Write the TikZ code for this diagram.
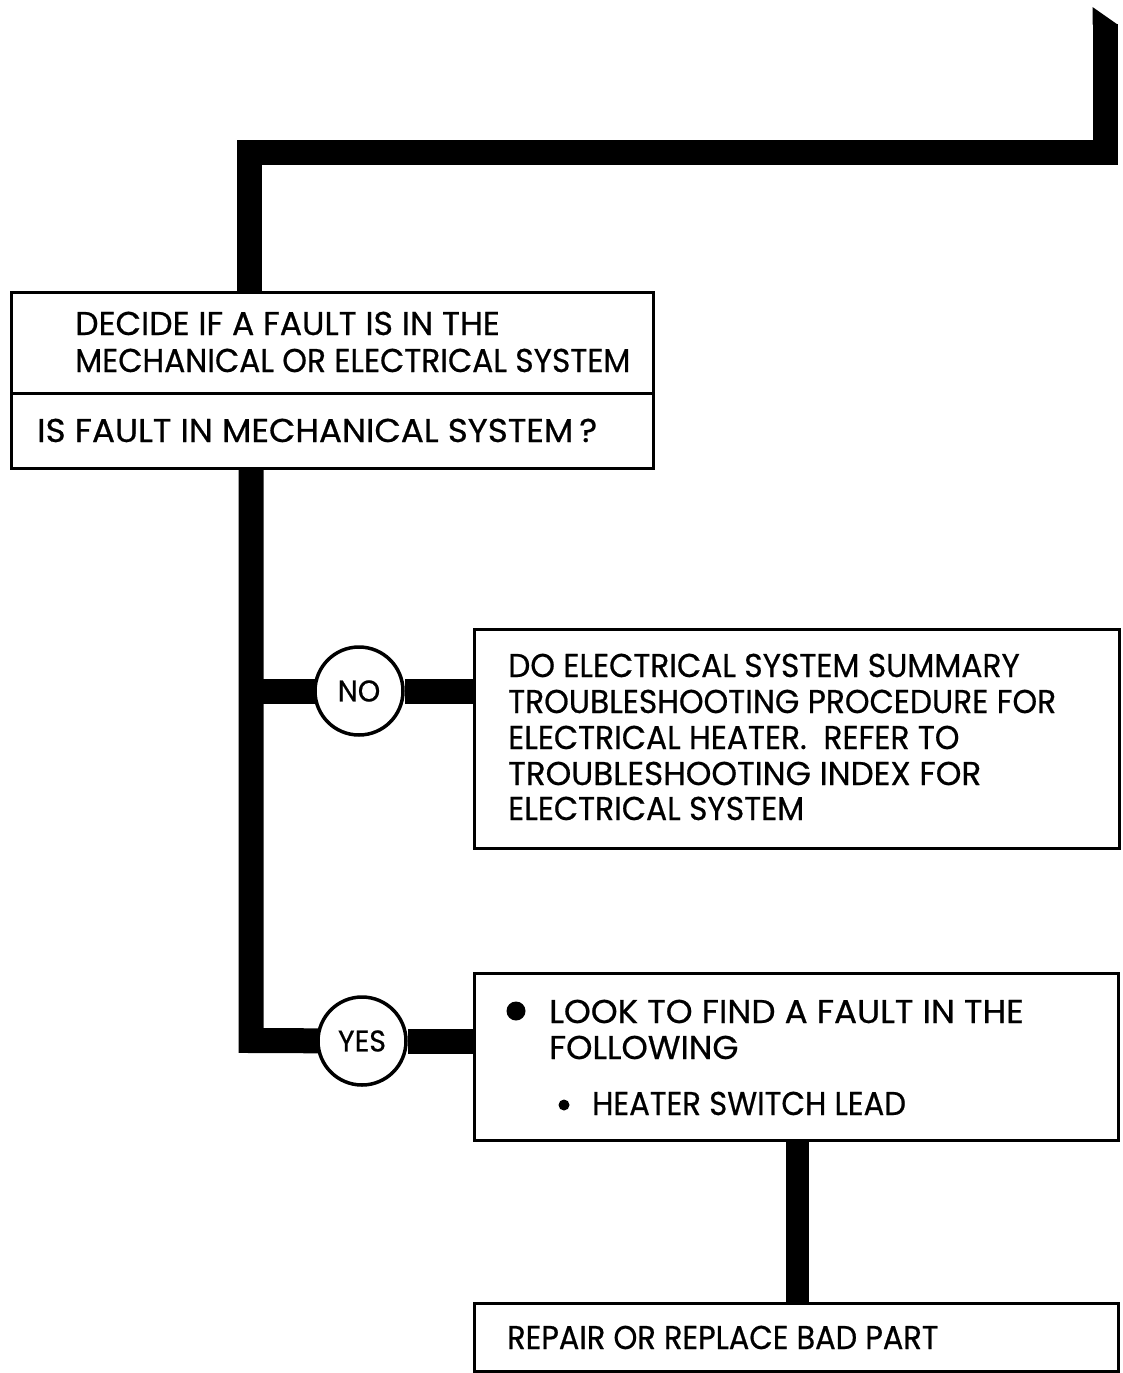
\documentclass[tikz,border=0pt]{standalone}
\usepackage{fontspec}
\usepackage{graphicx}
\setmainfont{Poppins}[FakeStretch=0.95,FakeBold=0.6]
\usetikzlibrary{backgrounds}
\newcommand\hsx[2]{\scalebox{#1}[1]{#2}}
\begin{document}
\begin{tikzpicture}[x=1pt,y=-1pt,
  bar/.style={line width=25pt,line join=miter},
  box/.style={draw,line width=2.8pt,rectangle,inner sep=0pt,anchor=north west},
  txt/.style={anchor=base west,inner sep=0pt,font=\fontsize{33}{36}\selectfont},
  yn/.style={circle,draw,line width=3.5pt,fill=white,minimum size=88pt,inner sep=0pt,font=\fontsize{30}{30}\selectfont}]
\useasboundingbox (0,0) rectangle (1122,1373);
% boxes
\node[box,minimum width=642pt,minimum height=101pt] (b1) at (10,291) {};
\node[box,minimum width=642pt,minimum height=75pt] (b2) at (10,392) {};
\node[box,minimum width=645pt,minimum height=219pt] (nobox) at (473,628) {};
\node[box,minimum width=644pt,minimum height=167pt] (yesbox) at (473,972) {};
\node[box,minimum width=644pt,minimum height=68pt] (repair) at (473,1302) {};
% circles
\node[yn] (no) at (359,691) {NO};
\node[yn] (yes) at (362,1041) {YES};
% texts
\node[txt] (t1) at (75,335) {\hsx{1.055}{DECIDE IF A FAULT IS IN THE}};
\node[txt] (t2) at (75,372) {MECHANICAL OR ELECTRICAL SYSTEM};
\node[txt] (t3) at (37,442) {\hsx{1.09}{IS FAULT IN MECHANICAL SYSTEM\,?}};
\node[txt] (n1) at (508,677) {DO ELECTRICAL SYSTEM SUMMARY};
\node[txt] (n2) at (508,713) {TROUBLESHOOTING PROCEDURE FOR};
\node[txt] (n3) at (508,749) {ELECTRICAL HEATER.\ \ REFER TO};
\node[txt] (n4) at (508,785) {\hsx{1.04}{TROUBLESHOOTING INDEX FOR}};
\node[txt] (n5) at (508,820) {ELECTRICAL SYSTEM};
\node[circle,fill,minimum size=19pt,inner sep=0pt] (bul1) at (516,1011) {};
\node[txt] (y1) at (549,1023) {\hsx{1.09}{LOOK TO FIND A FAULT IN THE}};
\node[txt] (y2) at (549,1059) {\hsx{1.07}{FOLLOWING}};
\node[circle,fill,minimum size=11pt,inner sep=0pt] (bul2) at (564,1105) {};
\node[txt] (y3) at (592,1115) {\hsx{0.98}{HEATER SWITCH LEAD}};
\node[txt] (r1) at (507,1349) {\hsx{0.97}{REPAIR OR REPLACE BAD PART}};
% connectors
\coordinate (start) at (1105,24);
\coordinate (trunk) at (251,467);
\begin{scope}[on background layer]
\fill (1092.5,24.5) -- (1092.5,7) -- (1117.5,24.5) -- cycle;
\draw[bar] (start) |- (249.5,152.5) -- (249.5,291);
\draw[bar] (trunk) -- (251,1040.5) -- (yes.center);
\draw[bar] (251,691) -- (no.center);
\draw[bar] (no) -- (no -| nobox.west);
\draw[bar] (yes) -- (yes -| yesbox.west);
\draw[line width=23pt] (yesbox.south -| 797.5,0) -- (repair.north -| 797.5,0);
\end{scope}
\end{tikzpicture}
\end{document}
